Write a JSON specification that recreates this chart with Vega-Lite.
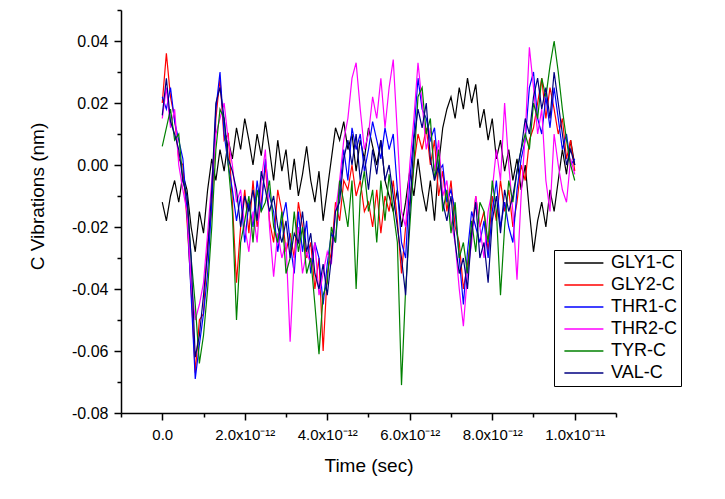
{
"$schema":"https://vega.github.io/schema/vega-lite/v6.json",
"width":495,"height":403,
"autosize":{"type":"none"},
"padding":{"left":121,"top":10,"right":109,"bottom":86},
"background":"white",
"config":{"view":{"stroke":null},
"axis":{"grid":false,"domainColor":"black","domainWidth":1.5,"tickColor":"black","tickWidth":1.5,"labelFont":"Liberation Sans","labelFontSize":15,"labelColor":"black","titleFont":"Liberation Sans","titleFontSize":19,"titleFontWeight":"normal","titleColor":"black"},
"legend":{"labelFont":"Liberation Sans","labelFontSize":18,"labelColor":"black"}},
"data":{"values":[
{"series":"GLY1-C","t":0.0e-12,"v":-0.012},{"series":"GLY1-C","t":0.1e-12,"v":-0.018},{"series":"GLY1-C","t":0.2e-12,"v":-0.010},{"series":"GLY1-C","t":0.3e-12,"v":-0.005},{"series":"GLY1-C","t":0.4e-12,"v":-0.012},{"series":"GLY1-C","t":0.5e-12,"v":-0.003},{"series":"GLY1-C","t":0.6e-12,"v":-0.008},{"series":"GLY1-C","t":0.7e-12,"v":-0.020},{"series":"GLY1-C","t":0.8e-12,"v":-0.028},{"series":"GLY1-C","t":0.9e-12,"v":-0.015},
{"series":"GLY1-C","t":1.0e-12,"v":-0.022},{"series":"GLY1-C","t":1.1e-12,"v":-0.008},{"series":"GLY1-C","t":1.2e-12,"v":0.002},{"series":"GLY1-C","t":1.3e-12,"v":-0.005},{"series":"GLY1-C","t":1.4e-12,"v":0.005},{"series":"GLY1-C","t":1.5e-12,"v":-0.002},{"series":"GLY1-C","t":1.6e-12,"v":0.008},{"series":"GLY1-C","t":1.7e-12,"v":0.002},{"series":"GLY1-C","t":1.8e-12,"v":0.012},{"series":"GLY1-C","t":1.9e-12,"v":0.005},
{"series":"GLY1-C","t":2.0e-12,"v":0.015},{"series":"GLY1-C","t":2.1e-12,"v":0.008},{"series":"GLY1-C","t":2.2e-12,"v":0.000},{"series":"GLY1-C","t":2.3e-12,"v":0.010},{"series":"GLY1-C","t":2.4e-12,"v":0.003},{"series":"GLY1-C","t":2.5e-12,"v":0.014},{"series":"GLY1-C","t":2.6e-12,"v":0.005},{"series":"GLY1-C","t":2.7e-12,"v":-0.005},{"series":"GLY1-C","t":2.8e-12,"v":0.008},{"series":"GLY1-C","t":2.9e-12,"v":-0.002},
{"series":"GLY1-C","t":3.0e-12,"v":0.005},{"series":"GLY1-C","t":3.1e-12,"v":-0.008},{"series":"GLY1-C","t":3.2e-12,"v":0.002},{"series":"GLY1-C","t":3.3e-12,"v":-0.010},{"series":"GLY1-C","t":3.4e-12,"v":-0.003},{"series":"GLY1-C","t":3.5e-12,"v":0.006},{"series":"GLY1-C","t":3.6e-12,"v":-0.005},{"series":"GLY1-C","t":3.7e-12,"v":-0.012},{"series":"GLY1-C","t":3.8e-12,"v":-0.002},{"series":"GLY1-C","t":3.9e-12,"v":-0.018},
{"series":"GLY1-C","t":4.0e-12,"v":-0.008},{"series":"GLY1-C","t":4.1e-12,"v":0.002},{"series":"GLY1-C","t":4.2e-12,"v":0.012},{"series":"GLY1-C","t":4.3e-12,"v":0.008},{"series":"GLY1-C","t":4.4e-12,"v":0.014},{"series":"GLY1-C","t":4.5e-12,"v":0.005},{"series":"GLY1-C","t":4.6e-12,"v":0.010},{"series":"GLY1-C","t":4.7e-12,"v":-0.002},{"series":"GLY1-C","t":4.8e-12,"v":0.008},{"series":"GLY1-C","t":4.9e-12,"v":0.002},
{"series":"GLY1-C","t":5.0e-12,"v":0.012},{"series":"GLY1-C","t":5.1e-12,"v":0.006},{"series":"GLY1-C","t":5.2e-12,"v":0.000},{"series":"GLY1-C","t":5.3e-12,"v":0.008},{"series":"GLY1-C","t":5.4e-12,"v":-0.005},{"series":"GLY1-C","t":5.5e-12,"v":-0.010},{"series":"GLY1-C","t":5.6e-12,"v":-0.015},{"series":"GLY1-C","t":5.7e-12,"v":-0.008},{"series":"GLY1-C","t":5.8e-12,"v":-0.020},{"series":"GLY1-C","t":5.9e-12,"v":-0.012},
{"series":"GLY1-C","t":6.0e-12,"v":-0.002},{"series":"GLY1-C","t":6.1e-12,"v":-0.010},{"series":"GLY1-C","t":6.2e-12,"v":0.002},{"series":"GLY1-C","t":6.3e-12,"v":-0.008},{"series":"GLY1-C","t":6.4e-12,"v":-0.015},{"series":"GLY1-C","t":6.5e-12,"v":-0.005},{"series":"GLY1-C","t":6.6e-12,"v":-0.018},{"series":"GLY1-C","t":6.7e-12,"v":0.000},{"series":"GLY1-C","t":6.8e-12,"v":0.012},{"series":"GLY1-C","t":6.9e-12,"v":0.018},
{"series":"GLY1-C","t":7.0e-12,"v":0.022},{"series":"GLY1-C","t":7.1e-12,"v":0.015},{"series":"GLY1-C","t":7.2e-12,"v":0.025},{"series":"GLY1-C","t":7.3e-12,"v":0.018},{"series":"GLY1-C","t":7.4e-12,"v":0.028},{"series":"GLY1-C","t":7.5e-12,"v":0.020},{"series":"GLY1-C","t":7.6e-12,"v":0.026},{"series":"GLY1-C","t":7.7e-12,"v":0.012},{"series":"GLY1-C","t":7.8e-12,"v":0.018},{"series":"GLY1-C","t":7.9e-12,"v":0.008},
{"series":"GLY1-C","t":8.0e-12,"v":0.015},{"series":"GLY1-C","t":8.1e-12,"v":0.002},{"series":"GLY1-C","t":8.2e-12,"v":0.008},{"series":"GLY1-C","t":8.3e-12,"v":-0.002},{"series":"GLY1-C","t":8.4e-12,"v":0.005},{"series":"GLY1-C","t":8.5e-12,"v":-0.005},{"series":"GLY1-C","t":8.6e-12,"v":0.002},{"series":"GLY1-C","t":8.7e-12,"v":-0.008},{"series":"GLY1-C","t":8.8e-12,"v":0.000},{"series":"GLY1-C","t":8.9e-12,"v":-0.015},
{"series":"GLY1-C","t":9.0e-12,"v":-0.028},{"series":"GLY1-C","t":9.1e-12,"v":-0.018},{"series":"GLY1-C","t":9.2e-12,"v":-0.012},{"series":"GLY1-C","t":9.3e-12,"v":-0.020},{"series":"GLY1-C","t":9.4e-12,"v":-0.008},{"series":"GLY1-C","t":9.5e-12,"v":-0.015},{"series":"GLY1-C","t":9.6e-12,"v":-0.005},{"series":"GLY1-C","t":9.7e-12,"v":0.005},{"series":"GLY1-C","t":9.8e-12,"v":-0.003},{"series":"GLY1-C","t":9.9e-12,"v":0.008},{"series":"GLY1-C","t":10.0e-12,"v":0.000},

{"series":"GLY2-C","t":0.0e-12,"v":0.020},{"series":"GLY2-C","t":0.1e-12,"v":0.036},{"series":"GLY2-C","t":0.2e-12,"v":0.022},{"series":"GLY2-C","t":0.3e-12,"v":0.015},{"series":"GLY2-C","t":0.4e-12,"v":0.002},{"series":"GLY2-C","t":0.5e-12,"v":0.000},{"series":"GLY2-C","t":0.6e-12,"v":-0.018},{"series":"GLY2-C","t":0.7e-12,"v":-0.040},{"series":"GLY2-C","t":0.8e-12,"v":-0.067},{"series":"GLY2-C","t":0.9e-12,"v":-0.050},
{"series":"GLY2-C","t":1.0e-12,"v":-0.048},{"series":"GLY2-C","t":1.1e-12,"v":-0.025},{"series":"GLY2-C","t":1.2e-12,"v":-0.015},{"series":"GLY2-C","t":1.3e-12,"v":0.015},{"series":"GLY2-C","t":1.4e-12,"v":0.028},{"series":"GLY2-C","t":1.5e-12,"v":0.008},{"series":"GLY2-C","t":1.6e-12,"v":0.010},{"series":"GLY2-C","t":1.7e-12,"v":-0.012},{"series":"GLY2-C","t":1.8e-12,"v":-0.038},{"series":"GLY2-C","t":1.9e-12,"v":-0.020},
{"series":"GLY2-C","t":2.0e-12,"v":-0.008},{"series":"GLY2-C","t":2.1e-12,"v":-0.022},{"series":"GLY2-C","t":2.2e-12,"v":-0.005},{"series":"GLY2-C","t":2.3e-12,"v":-0.020},{"series":"GLY2-C","t":2.4e-12,"v":-0.012},{"series":"GLY2-C","t":2.5e-12,"v":0.000},{"series":"GLY2-C","t":2.6e-12,"v":-0.018},{"series":"GLY2-C","t":2.7e-12,"v":-0.025},{"series":"GLY2-C","t":2.8e-12,"v":-0.008},{"series":"GLY2-C","t":2.9e-12,"v":-0.015},
{"series":"GLY2-C","t":3.0e-12,"v":-0.028},{"series":"GLY2-C","t":3.1e-12,"v":-0.022},{"series":"GLY2-C","t":3.2e-12,"v":-0.030},{"series":"GLY2-C","t":3.3e-12,"v":-0.012},{"series":"GLY2-C","t":3.4e-12,"v":-0.020},{"series":"GLY2-C","t":3.5e-12,"v":-0.030},{"series":"GLY2-C","t":3.6e-12,"v":-0.025},{"series":"GLY2-C","t":3.7e-12,"v":-0.040},{"series":"GLY2-C","t":3.8e-12,"v":-0.030},{"series":"GLY2-C","t":3.9e-12,"v":-0.060},
{"series":"GLY2-C","t":4.0e-12,"v":-0.035},{"series":"GLY2-C","t":4.1e-12,"v":-0.028},{"series":"GLY2-C","t":4.2e-12,"v":-0.012},{"series":"GLY2-C","t":4.3e-12,"v":-0.018},{"series":"GLY2-C","t":4.4e-12,"v":-0.005},{"series":"GLY2-C","t":4.5e-12,"v":-0.008},{"series":"GLY2-C","t":4.6e-12,"v":0.000},{"series":"GLY2-C","t":4.7e-12,"v":-0.010},{"series":"GLY2-C","t":4.8e-12,"v":-0.005},{"series":"GLY2-C","t":4.9e-12,"v":-0.015},
{"series":"GLY2-C","t":5.0e-12,"v":-0.012},{"series":"GLY2-C","t":5.1e-12,"v":-0.020},{"series":"GLY2-C","t":5.2e-12,"v":-0.008},{"series":"GLY2-C","t":5.3e-12,"v":-0.022},{"series":"GLY2-C","t":5.4e-12,"v":-0.010},{"series":"GLY2-C","t":5.5e-12,"v":-0.015},{"series":"GLY2-C","t":5.6e-12,"v":-0.005},{"series":"GLY2-C","t":5.7e-12,"v":-0.018},{"series":"GLY2-C","t":5.8e-12,"v":-0.035},{"series":"GLY2-C","t":5.9e-12,"v":-0.020},
{"series":"GLY2-C","t":6.0e-12,"v":-0.012},{"series":"GLY2-C","t":6.1e-12,"v":0.000},{"series":"GLY2-C","t":6.2e-12,"v":0.010},{"series":"GLY2-C","t":6.3e-12,"v":0.005},{"series":"GLY2-C","t":6.4e-12,"v":0.012},{"series":"GLY2-C","t":6.5e-12,"v":0.000},{"series":"GLY2-C","t":6.6e-12,"v":0.008},{"series":"GLY2-C","t":6.7e-12,"v":-0.010},{"series":"GLY2-C","t":6.8e-12,"v":-0.002},{"series":"GLY2-C","t":6.9e-12,"v":-0.015},
{"series":"GLY2-C","t":7.0e-12,"v":-0.005},{"series":"GLY2-C","t":7.1e-12,"v":-0.020},{"series":"GLY2-C","t":7.2e-12,"v":-0.025},{"series":"GLY2-C","t":7.3e-12,"v":-0.040},{"series":"GLY2-C","t":7.4e-12,"v":-0.032},{"series":"GLY2-C","t":7.5e-12,"v":-0.022},{"series":"GLY2-C","t":7.6e-12,"v":-0.010},{"series":"GLY2-C","t":7.7e-12,"v":-0.020},{"series":"GLY2-C","t":7.8e-12,"v":-0.015},{"series":"GLY2-C","t":7.9e-12,"v":-0.028},
{"series":"GLY2-C","t":8.0e-12,"v":-0.010},{"series":"GLY2-C","t":8.1e-12,"v":-0.018},{"series":"GLY2-C","t":8.2e-12,"v":-0.005},{"series":"GLY2-C","t":8.3e-12,"v":-0.015},{"series":"GLY2-C","t":8.4e-12,"v":-0.008},{"series":"GLY2-C","t":8.5e-12,"v":-0.020},{"series":"GLY2-C","t":8.6e-12,"v":-0.012},{"series":"GLY2-C","t":8.7e-12,"v":0.000},{"series":"GLY2-C","t":8.8e-12,"v":-0.005},{"series":"GLY2-C","t":8.9e-12,"v":0.008},
{"series":"GLY2-C","t":9.0e-12,"v":0.012},{"series":"GLY2-C","t":9.1e-12,"v":0.020},{"series":"GLY2-C","t":9.2e-12,"v":0.028},{"series":"GLY2-C","t":9.3e-12,"v":0.015},{"series":"GLY2-C","t":9.4e-12,"v":0.025},{"series":"GLY2-C","t":9.5e-12,"v":0.018},{"series":"GLY2-C","t":9.6e-12,"v":0.010},{"series":"GLY2-C","t":9.7e-12,"v":0.015},{"series":"GLY2-C","t":9.8e-12,"v":0.002},{"series":"GLY2-C","t":9.9e-12,"v":0.008},{"series":"GLY2-C","t":10.0e-12,"v":-0.002},

{"series":"THR1-C","t":0.0e-12,"v":0.022},{"series":"THR1-C","t":0.1e-12,"v":0.018},{"series":"THR1-C","t":0.2e-12,"v":0.025},{"series":"THR1-C","t":0.3e-12,"v":0.014},{"series":"THR1-C","t":0.4e-12,"v":0.008},{"series":"THR1-C","t":0.5e-12,"v":0.002},{"series":"THR1-C","t":0.6e-12,"v":-0.015},{"series":"THR1-C","t":0.7e-12,"v":-0.042},{"series":"THR1-C","t":0.8e-12,"v":-0.069},{"series":"THR1-C","t":0.9e-12,"v":-0.058},
{"series":"THR1-C","t":1.0e-12,"v":-0.048},{"series":"THR1-C","t":1.1e-12,"v":-0.035},{"series":"THR1-C","t":1.2e-12,"v":-0.012},{"series":"THR1-C","t":1.3e-12,"v":0.018},{"series":"THR1-C","t":1.4e-12,"v":0.030},{"series":"THR1-C","t":1.5e-12,"v":0.010},{"series":"THR1-C","t":1.6e-12,"v":0.000},{"series":"THR1-C","t":1.7e-12,"v":-0.008},{"series":"THR1-C","t":1.8e-12,"v":-0.018},{"series":"THR1-C","t":1.9e-12,"v":-0.010},
{"series":"THR1-C","t":2.0e-12,"v":-0.025},{"series":"THR1-C","t":2.1e-12,"v":-0.012},{"series":"THR1-C","t":2.2e-12,"v":-0.020},{"series":"THR1-C","t":2.3e-12,"v":-0.005},{"series":"THR1-C","t":2.4e-12,"v":-0.015},{"series":"THR1-C","t":2.5e-12,"v":0.002},{"series":"THR1-C","t":2.6e-12,"v":-0.010},{"series":"THR1-C","t":2.7e-12,"v":-0.015},{"series":"THR1-C","t":2.8e-12,"v":-0.028},{"series":"THR1-C","t":2.9e-12,"v":-0.018},
{"series":"THR1-C","t":3.0e-12,"v":-0.012},{"series":"THR1-C","t":3.1e-12,"v":-0.025},{"series":"THR1-C","t":3.2e-12,"v":-0.035},{"series":"THR1-C","t":3.3e-12,"v":-0.015},{"series":"THR1-C","t":3.4e-12,"v":-0.028},{"series":"THR1-C","t":3.5e-12,"v":-0.018},{"series":"THR1-C","t":3.6e-12,"v":-0.035},{"series":"THR1-C","t":3.7e-12,"v":-0.025},{"series":"THR1-C","t":3.8e-12,"v":-0.030},{"series":"THR1-C","t":3.9e-12,"v":-0.045},
{"series":"THR1-C","t":4.0e-12,"v":-0.032},{"series":"THR1-C","t":4.1e-12,"v":-0.022},{"series":"THR1-C","t":4.2e-12,"v":-0.025},{"series":"THR1-C","t":4.3e-12,"v":-0.008},{"series":"THR1-C","t":4.4e-12,"v":0.005},{"series":"THR1-C","t":4.5e-12,"v":-0.005},{"series":"THR1-C","t":4.6e-12,"v":0.012},{"series":"THR1-C","t":4.7e-12,"v":0.005},{"series":"THR1-C","t":4.8e-12,"v":0.010},{"series":"THR1-C","t":4.9e-12,"v":-0.002},
{"series":"THR1-C","t":5.0e-12,"v":0.005},{"series":"THR1-C","t":5.1e-12,"v":0.014},{"series":"THR1-C","t":5.2e-12,"v":0.008},{"series":"THR1-C","t":5.3e-12,"v":0.002},{"series":"THR1-C","t":5.4e-12,"v":0.012},{"series":"THR1-C","t":5.5e-12,"v":0.005},{"series":"THR1-C","t":5.6e-12,"v":0.010},{"series":"THR1-C","t":5.7e-12,"v":-0.008},{"series":"THR1-C","t":5.8e-12,"v":-0.025},{"series":"THR1-C","t":5.9e-12,"v":-0.030},
{"series":"THR1-C","t":6.0e-12,"v":-0.005},{"series":"THR1-C","t":6.1e-12,"v":0.010},{"series":"THR1-C","t":6.2e-12,"v":0.028},{"series":"THR1-C","t":6.3e-12,"v":0.018},{"series":"THR1-C","t":6.4e-12,"v":0.015},{"series":"THR1-C","t":6.5e-12,"v":0.008},{"series":"THR1-C","t":6.6e-12,"v":0.012},{"series":"THR1-C","t":6.7e-12,"v":-0.002},{"series":"THR1-C","t":6.8e-12,"v":0.000},{"series":"THR1-C","t":6.9e-12,"v":-0.012},
{"series":"THR1-C","t":7.0e-12,"v":-0.008},{"series":"THR1-C","t":7.1e-12,"v":-0.015},{"series":"THR1-C","t":7.2e-12,"v":-0.030},{"series":"THR1-C","t":7.3e-12,"v":-0.045},{"series":"THR1-C","t":7.4e-12,"v":-0.028},{"series":"THR1-C","t":7.5e-12,"v":-0.015},{"series":"THR1-C","t":7.6e-12,"v":-0.020},{"series":"THR1-C","t":7.7e-12,"v":-0.025},{"series":"THR1-C","t":7.8e-12,"v":-0.018},{"series":"THR1-C","t":7.9e-12,"v":-0.030},
{"series":"THR1-C","t":8.0e-12,"v":-0.015},{"series":"THR1-C","t":8.1e-12,"v":-0.005},{"series":"THR1-C","t":8.2e-12,"v":-0.020},{"series":"THR1-C","t":8.3e-12,"v":-0.012},{"series":"THR1-C","t":8.4e-12,"v":-0.020},{"series":"THR1-C","t":8.5e-12,"v":-0.025},{"series":"THR1-C","t":8.6e-12,"v":-0.008},{"series":"THR1-C","t":8.7e-12,"v":0.002},{"series":"THR1-C","t":8.8e-12,"v":0.008},{"series":"THR1-C","t":8.9e-12,"v":0.025},
{"series":"THR1-C","t":9.0e-12,"v":0.030},{"series":"THR1-C","t":9.1e-12,"v":0.015},{"series":"THR1-C","t":9.2e-12,"v":0.010},{"series":"THR1-C","t":9.3e-12,"v":0.022},{"series":"THR1-C","t":9.4e-12,"v":0.012},{"series":"THR1-C","t":9.5e-12,"v":0.025},{"series":"THR1-C","t":9.6e-12,"v":0.015},{"series":"THR1-C","t":9.7e-12,"v":0.005},{"series":"THR1-C","t":9.8e-12,"v":0.010},{"series":"THR1-C","t":9.9e-12,"v":0.000},{"series":"THR1-C","t":10.0e-12,"v":0.002},

{"series":"THR2-C","t":0.0e-12,"v":0.015},{"series":"THR2-C","t":0.1e-12,"v":0.025},{"series":"THR2-C","t":0.2e-12,"v":0.012},{"series":"THR2-C","t":0.3e-12,"v":0.018},{"series":"THR2-C","t":0.4e-12,"v":0.000},{"series":"THR2-C","t":0.5e-12,"v":-0.008},{"series":"THR2-C","t":0.6e-12,"v":-0.015},{"series":"THR2-C","t":0.7e-12,"v":-0.038},{"series":"THR2-C","t":0.8e-12,"v":-0.050},{"series":"THR2-C","t":0.9e-12,"v":-0.045},
{"series":"THR2-C","t":1.0e-12,"v":-0.038},{"series":"THR2-C","t":1.1e-12,"v":-0.022},{"series":"THR2-C","t":1.2e-12,"v":-0.005},{"series":"THR2-C","t":1.3e-12,"v":0.010},{"series":"THR2-C","t":1.4e-12,"v":0.015},{"series":"THR2-C","t":1.5e-12,"v":0.020},{"series":"THR2-C","t":1.6e-12,"v":0.008},{"series":"THR2-C","t":1.7e-12,"v":0.000},{"series":"THR2-C","t":1.8e-12,"v":-0.012},{"series":"THR2-C","t":1.9e-12,"v":-0.008},
{"series":"THR2-C","t":2.0e-12,"v":-0.020},{"series":"THR2-C","t":2.1e-12,"v":-0.028},{"series":"THR2-C","t":2.2e-12,"v":-0.015},{"series":"THR2-C","t":2.3e-12,"v":-0.025},{"series":"THR2-C","t":2.4e-12,"v":-0.005},{"series":"THR2-C","t":2.5e-12,"v":0.005},{"series":"THR2-C","t":2.6e-12,"v":-0.020},{"series":"THR2-C","t":2.7e-12,"v":-0.036},{"series":"THR2-C","t":2.8e-12,"v":-0.022},{"series":"THR2-C","t":2.9e-12,"v":-0.030},
{"series":"THR2-C","t":3.0e-12,"v":-0.025},{"series":"THR2-C","t":3.1e-12,"v":-0.057},{"series":"THR2-C","t":3.2e-12,"v":-0.030},{"series":"THR2-C","t":3.3e-12,"v":-0.020},{"series":"THR2-C","t":3.4e-12,"v":-0.035},{"series":"THR2-C","t":3.5e-12,"v":-0.028},{"series":"THR2-C","t":3.6e-12,"v":-0.032},{"series":"THR2-C","t":3.7e-12,"v":-0.025},{"series":"THR2-C","t":3.8e-12,"v":-0.042},{"series":"THR2-C","t":3.9e-12,"v":-0.035},
{"series":"THR2-C","t":4.0e-12,"v":-0.028},{"series":"THR2-C","t":4.1e-12,"v":-0.032},{"series":"THR2-C","t":4.2e-12,"v":-0.015},{"series":"THR2-C","t":4.3e-12,"v":-0.005},{"series":"THR2-C","t":4.4e-12,"v":0.008},{"series":"THR2-C","t":4.5e-12,"v":0.015},{"series":"THR2-C","t":4.6e-12,"v":0.028},{"series":"THR2-C","t":4.7e-12,"v":0.033},{"series":"THR2-C","t":4.8e-12,"v":0.018},{"series":"THR2-C","t":4.9e-12,"v":0.005},
{"series":"THR2-C","t":5.0e-12,"v":0.010},{"series":"THR2-C","t":5.1e-12,"v":0.022},{"series":"THR2-C","t":5.2e-12,"v":0.015},{"series":"THR2-C","t":5.3e-12,"v":0.028},{"series":"THR2-C","t":5.4e-12,"v":0.012},{"series":"THR2-C","t":5.5e-12,"v":0.025},{"series":"THR2-C","t":5.6e-12,"v":0.034},{"series":"THR2-C","t":5.7e-12,"v":0.010},{"series":"THR2-C","t":5.8e-12,"v":-0.015},{"series":"THR2-C","t":5.9e-12,"v":-0.020},
{"series":"THR2-C","t":6.0e-12,"v":0.000},{"series":"THR2-C","t":6.1e-12,"v":0.015},{"series":"THR2-C","t":6.2e-12,"v":0.033},{"series":"THR2-C","t":6.3e-12,"v":0.020},{"series":"THR2-C","t":6.4e-12,"v":0.005},{"series":"THR2-C","t":6.5e-12,"v":0.012},{"series":"THR2-C","t":6.6e-12,"v":-0.002},{"series":"THR2-C","t":6.7e-12,"v":0.008},{"series":"THR2-C","t":6.8e-12,"v":-0.010},{"series":"THR2-C","t":6.9e-12,"v":-0.005},
{"series":"THR2-C","t":7.0e-12,"v":-0.018},{"series":"THR2-C","t":7.1e-12,"v":-0.025},{"series":"THR2-C","t":7.2e-12,"v":-0.040},{"series":"THR2-C","t":7.3e-12,"v":-0.052},{"series":"THR2-C","t":7.4e-12,"v":-0.035},{"series":"THR2-C","t":7.5e-12,"v":-0.025},{"series":"THR2-C","t":7.6e-12,"v":-0.010},{"series":"THR2-C","t":7.7e-12,"v":-0.020},{"series":"THR2-C","t":7.8e-12,"v":-0.030},{"series":"THR2-C","t":7.9e-12,"v":-0.015},
{"series":"THR2-C","t":8.0e-12,"v":-0.008},{"series":"THR2-C","t":8.1e-12,"v":0.005},{"series":"THR2-C","t":8.2e-12,"v":-0.005},{"series":"THR2-C","t":8.3e-12,"v":0.020},{"series":"THR2-C","t":8.4e-12,"v":0.000},{"series":"THR2-C","t":8.5e-12,"v":-0.015},{"series":"THR2-C","t":8.6e-12,"v":-0.037},{"series":"THR2-C","t":8.7e-12,"v":-0.010},{"series":"THR2-C","t":8.8e-12,"v":0.010},{"series":"THR2-C","t":8.9e-12,"v":0.038},
{"series":"THR2-C","t":9.0e-12,"v":0.025},{"series":"THR2-C","t":9.1e-12,"v":0.010},{"series":"THR2-C","t":9.2e-12,"v":0.018},{"series":"THR2-C","t":9.3e-12,"v":-0.005},{"series":"THR2-C","t":9.4e-12,"v":-0.015},{"series":"THR2-C","t":9.5e-12,"v":0.010},{"series":"THR2-C","t":9.6e-12,"v":0.000},{"series":"THR2-C","t":9.7e-12,"v":-0.008},{"series":"THR2-C","t":9.8e-12,"v":-0.012},{"series":"THR2-C","t":9.9e-12,"v":0.002},{"series":"THR2-C","t":10.0e-12,"v":-0.003},

{"series":"TYR-C","t":0.0e-12,"v":0.006},{"series":"TYR-C","t":0.1e-12,"v":0.012},{"series":"TYR-C","t":0.2e-12,"v":0.018},{"series":"TYR-C","t":0.3e-12,"v":0.008},{"series":"TYR-C","t":0.4e-12,"v":0.010},{"series":"TYR-C","t":0.5e-12,"v":-0.005},{"series":"TYR-C","t":0.6e-12,"v":-0.010},{"series":"TYR-C","t":0.7e-12,"v":-0.030},{"series":"TYR-C","t":0.8e-12,"v":-0.045},{"series":"TYR-C","t":0.9e-12,"v":-0.064},
{"series":"TYR-C","t":1.0e-12,"v":-0.055},{"series":"TYR-C","t":1.1e-12,"v":-0.040},{"series":"TYR-C","t":1.2e-12,"v":-0.020},{"series":"TYR-C","t":1.3e-12,"v":0.005},{"series":"TYR-C","t":1.4e-12,"v":0.018},{"series":"TYR-C","t":1.5e-12,"v":0.015},{"series":"TYR-C","t":1.6e-12,"v":0.000},{"series":"TYR-C","t":1.7e-12,"v":-0.015},{"series":"TYR-C","t":1.8e-12,"v":-0.050},{"series":"TYR-C","t":1.9e-12,"v":-0.025},
{"series":"TYR-C","t":2.0e-12,"v":-0.018},{"series":"TYR-C","t":2.1e-12,"v":-0.010},{"series":"TYR-C","t":2.2e-12,"v":-0.025},{"series":"TYR-C","t":2.3e-12,"v":-0.008},{"series":"TYR-C","t":2.4e-12,"v":-0.015},{"series":"TYR-C","t":2.5e-12,"v":-0.012},{"series":"TYR-C","t":2.6e-12,"v":-0.005},{"series":"TYR-C","t":2.7e-12,"v":-0.020},{"series":"TYR-C","t":2.8e-12,"v":-0.025},{"series":"TYR-C","t":2.9e-12,"v":-0.015},
{"series":"TYR-C","t":3.0e-12,"v":-0.035},{"series":"TYR-C","t":3.1e-12,"v":-0.030},{"series":"TYR-C","t":3.2e-12,"v":-0.015},{"series":"TYR-C","t":3.3e-12,"v":-0.028},{"series":"TYR-C","t":3.4e-12,"v":-0.020},{"series":"TYR-C","t":3.5e-12,"v":-0.035},{"series":"TYR-C","t":3.6e-12,"v":-0.030},{"series":"TYR-C","t":3.7e-12,"v":-0.045},{"series":"TYR-C","t":3.8e-12,"v":-0.061},{"series":"TYR-C","t":3.9e-12,"v":-0.042},
{"series":"TYR-C","t":4.0e-12,"v":-0.038},{"series":"TYR-C","t":4.1e-12,"v":-0.020},{"series":"TYR-C","t":4.2e-12,"v":-0.025},{"series":"TYR-C","t":4.3e-12,"v":-0.005},{"series":"TYR-C","t":4.4e-12,"v":-0.012},{"series":"TYR-C","t":4.5e-12,"v":-0.020},{"series":"TYR-C","t":4.6e-12,"v":-0.005},{"series":"TYR-C","t":4.7e-12,"v":-0.040},{"series":"TYR-C","t":4.8e-12,"v":-0.010},{"series":"TYR-C","t":4.9e-12,"v":-0.002},
{"series":"TYR-C","t":5.0e-12,"v":-0.015},{"series":"TYR-C","t":5.1e-12,"v":-0.008},{"series":"TYR-C","t":5.2e-12,"v":-0.025},{"series":"TYR-C","t":5.3e-12,"v":-0.005},{"series":"TYR-C","t":5.4e-12,"v":-0.018},{"series":"TYR-C","t":5.5e-12,"v":-0.003},{"series":"TYR-C","t":5.6e-12,"v":-0.015},{"series":"TYR-C","t":5.7e-12,"v":-0.025},{"series":"TYR-C","t":5.8e-12,"v":-0.071},{"series":"TYR-C","t":5.9e-12,"v":-0.040},
{"series":"TYR-C","t":6.0e-12,"v":-0.020},{"series":"TYR-C","t":6.1e-12,"v":0.000},{"series":"TYR-C","t":6.2e-12,"v":0.022},{"series":"TYR-C","t":6.3e-12,"v":0.025},{"series":"TYR-C","t":6.4e-12,"v":0.010},{"series":"TYR-C","t":6.5e-12,"v":0.015},{"series":"TYR-C","t":6.6e-12,"v":-0.005},{"series":"TYR-C","t":6.7e-12,"v":0.005},{"series":"TYR-C","t":6.8e-12,"v":-0.015},{"series":"TYR-C","t":6.9e-12,"v":-0.008},
{"series":"TYR-C","t":7.0e-12,"v":-0.022},{"series":"TYR-C","t":7.1e-12,"v":-0.012},{"series":"TYR-C","t":7.2e-12,"v":-0.030},{"series":"TYR-C","t":7.3e-12,"v":-0.025},{"series":"TYR-C","t":7.4e-12,"v":-0.035},{"series":"TYR-C","t":7.5e-12,"v":-0.018},{"series":"TYR-C","t":7.6e-12,"v":-0.028},{"series":"TYR-C","t":7.7e-12,"v":-0.012},{"series":"TYR-C","t":7.8e-12,"v":-0.015},{"series":"TYR-C","t":7.9e-12,"v":-0.025},
{"series":"TYR-C","t":8.0e-12,"v":-0.005},{"series":"TYR-C","t":8.1e-12,"v":-0.015},{"series":"TYR-C","t":8.2e-12,"v":-0.042},{"series":"TYR-C","t":8.3e-12,"v":-0.020},{"series":"TYR-C","t":8.4e-12,"v":-0.005},{"series":"TYR-C","t":8.5e-12,"v":-0.012},{"series":"TYR-C","t":8.6e-12,"v":-0.002},{"series":"TYR-C","t":8.7e-12,"v":0.005},{"series":"TYR-C","t":8.8e-12,"v":0.010},{"series":"TYR-C","t":8.9e-12,"v":0.005},
{"series":"TYR-C","t":9.0e-12,"v":0.020},{"series":"TYR-C","t":9.1e-12,"v":0.015},{"series":"TYR-C","t":9.2e-12,"v":0.028},{"series":"TYR-C","t":9.3e-12,"v":0.022},{"series":"TYR-C","t":9.4e-12,"v":0.032},{"series":"TYR-C","t":9.5e-12,"v":0.040},{"series":"TYR-C","t":9.6e-12,"v":0.030},{"series":"TYR-C","t":9.7e-12,"v":0.018},{"series":"TYR-C","t":9.8e-12,"v":0.008},{"series":"TYR-C","t":9.9e-12,"v":0.000},{"series":"TYR-C","t":10.0e-12,"v":-0.005},

{"series":"VAL-C","t":0.0e-12,"v":0.016},{"series":"VAL-C","t":0.1e-12,"v":0.028},{"series":"VAL-C","t":0.2e-12,"v":0.014},{"series":"VAL-C","t":0.3e-12,"v":0.010},{"series":"VAL-C","t":0.4e-12,"v":0.005},{"series":"VAL-C","t":0.5e-12,"v":-0.005},{"series":"VAL-C","t":0.6e-12,"v":-0.010},{"series":"VAL-C","t":0.7e-12,"v":-0.030},{"series":"VAL-C","t":0.8e-12,"v":-0.062},{"series":"VAL-C","t":0.9e-12,"v":-0.055},
{"series":"VAL-C","t":1.0e-12,"v":-0.042},{"series":"VAL-C","t":1.1e-12,"v":-0.028},{"series":"VAL-C","t":1.2e-12,"v":-0.008},{"series":"VAL-C","t":1.3e-12,"v":0.020},{"series":"VAL-C","t":1.4e-12,"v":0.025},{"series":"VAL-C","t":1.5e-12,"v":0.015},{"series":"VAL-C","t":1.6e-12,"v":0.002},{"series":"VAL-C","t":1.7e-12,"v":-0.002},{"series":"VAL-C","t":1.8e-12,"v":-0.008},{"series":"VAL-C","t":1.9e-12,"v":-0.020},
{"series":"VAL-C","t":2.0e-12,"v":-0.010},{"series":"VAL-C","t":2.1e-12,"v":-0.015},{"series":"VAL-C","t":2.2e-12,"v":-0.008},{"series":"VAL-C","t":2.3e-12,"v":-0.018},{"series":"VAL-C","t":2.4e-12,"v":-0.002},{"series":"VAL-C","t":2.5e-12,"v":-0.008},{"series":"VAL-C","t":2.6e-12,"v":-0.015},{"series":"VAL-C","t":2.7e-12,"v":-0.010},{"series":"VAL-C","t":2.8e-12,"v":-0.020},{"series":"VAL-C","t":2.9e-12,"v":-0.025},
{"series":"VAL-C","t":3.0e-12,"v":-0.018},{"series":"VAL-C","t":3.1e-12,"v":-0.030},{"series":"VAL-C","t":3.2e-12,"v":-0.022},{"series":"VAL-C","t":3.3e-12,"v":-0.025},{"series":"VAL-C","t":3.4e-12,"v":-0.015},{"series":"VAL-C","t":3.5e-12,"v":-0.028},{"series":"VAL-C","t":3.6e-12,"v":-0.022},{"series":"VAL-C","t":3.7e-12,"v":-0.035},{"series":"VAL-C","t":3.8e-12,"v":-0.040},{"series":"VAL-C","t":3.9e-12,"v":-0.032},
{"series":"VAL-C","t":4.0e-12,"v":-0.042},{"series":"VAL-C","t":4.1e-12,"v":-0.030},{"series":"VAL-C","t":4.2e-12,"v":-0.015},{"series":"VAL-C","t":4.3e-12,"v":-0.012},{"series":"VAL-C","t":4.4e-12,"v":0.002},{"series":"VAL-C","t":4.5e-12,"v":0.008},{"series":"VAL-C","t":4.6e-12,"v":0.000},{"series":"VAL-C","t":4.7e-12,"v":0.010},{"series":"VAL-C","t":4.8e-12,"v":-0.005},{"series":"VAL-C","t":4.9e-12,"v":0.003},
{"series":"VAL-C","t":5.0e-12,"v":-0.008},{"series":"VAL-C","t":5.1e-12,"v":0.005},{"series":"VAL-C","t":5.2e-12,"v":-0.003},{"series":"VAL-C","t":5.3e-12,"v":0.008},{"series":"VAL-C","t":5.4e-12,"v":-0.005},{"series":"VAL-C","t":5.5e-12,"v":0.000},{"series":"VAL-C","t":5.6e-12,"v":-0.010},{"series":"VAL-C","t":5.7e-12,"v":-0.020},{"series":"VAL-C","t":5.8e-12,"v":-0.030},{"series":"VAL-C","t":5.9e-12,"v":-0.042},
{"series":"VAL-C","t":6.0e-12,"v":-0.015},{"series":"VAL-C","t":6.1e-12,"v":0.008},{"series":"VAL-C","t":6.2e-12,"v":0.018},{"series":"VAL-C","t":6.3e-12,"v":0.012},{"series":"VAL-C","t":6.4e-12,"v":0.020},{"series":"VAL-C","t":6.5e-12,"v":0.002},{"series":"VAL-C","t":6.6e-12,"v":-0.005},{"series":"VAL-C","t":6.7e-12,"v":0.000},{"series":"VAL-C","t":6.8e-12,"v":-0.012},{"series":"VAL-C","t":6.9e-12,"v":-0.018},
{"series":"VAL-C","t":7.0e-12,"v":-0.010},{"series":"VAL-C","t":7.1e-12,"v":-0.025},{"series":"VAL-C","t":7.2e-12,"v":-0.035},{"series":"VAL-C","t":7.3e-12,"v":-0.030},{"series":"VAL-C","t":7.4e-12,"v":-0.040},{"series":"VAL-C","t":7.5e-12,"v":-0.022},{"series":"VAL-C","t":7.6e-12,"v":-0.012},{"series":"VAL-C","t":7.7e-12,"v":-0.030},{"series":"VAL-C","t":7.8e-12,"v":-0.025},{"series":"VAL-C","t":7.9e-12,"v":-0.038},
{"series":"VAL-C","t":8.0e-12,"v":-0.018},{"series":"VAL-C","t":8.1e-12,"v":-0.010},{"series":"VAL-C","t":8.2e-12,"v":-0.022},{"series":"VAL-C","t":8.3e-12,"v":-0.008},{"series":"VAL-C","t":8.4e-12,"v":-0.015},{"series":"VAL-C","t":8.5e-12,"v":-0.010},{"series":"VAL-C","t":8.6e-12,"v":-0.002},{"series":"VAL-C","t":8.7e-12,"v":0.005},{"series":"VAL-C","t":8.8e-12,"v":0.015},{"series":"VAL-C","t":8.9e-12,"v":0.010},
{"series":"VAL-C","t":9.0e-12,"v":0.022},{"series":"VAL-C","t":9.1e-12,"v":0.028},{"series":"VAL-C","t":9.2e-12,"v":0.018},{"series":"VAL-C","t":9.3e-12,"v":0.025},{"series":"VAL-C","t":9.4e-12,"v":0.015},{"series":"VAL-C","t":9.5e-12,"v":0.030},{"series":"VAL-C","t":9.6e-12,"v":0.020},{"series":"VAL-C","t":9.7e-12,"v":0.010},{"series":"VAL-C","t":9.8e-12,"v":0.000},{"series":"VAL-C","t":9.9e-12,"v":0.005},{"series":"VAL-C","t":10.0e-12,"v":0.000}
]},
"mark":{"type":"line","strokeWidth":1.2,"interpolate":"linear"},
"encoding":{
"x":{"field":"t","type":"quantitative",
"scale":{"domain":[-1e-12,1.1e-11],"nice":false,"zero":false},
"axis":{"title":"Time (sec)","values":[-1e-12,0,1e-12,2e-12,3e-12,4e-12,5e-12,6e-12,7e-12,8e-12,9e-12,1e-11,1.1e-11],
"labelExpr":"datum.value == 0 ? '0.0' : (abs(datum.value - 1e-11) < 1e-15 ? '1.0x10⁻¹¹' : (round(datum.value * 1e12) % 2 == 0 ? format(datum.value * 1e12, '.1f') + 'x10⁻¹²' : ''))",
"tickSize":{"condition":{"test":"round(datum.value * 1e12) % 2 == 0","value":7},"value":4},
"labelPadding":7,"labelFlush":false,"labelOverlap":false,"titleY":43,"titleBaseline":"top"}},
"y":{"field":"v","type":"quantitative",
"scale":{"domain":[-0.08,0.05],"nice":false,"zero":false},
"axis":{"title":"C Vibrations (nm)","values":[-0.08,-0.07,-0.06,-0.05,-0.04,-0.03,-0.02,-0.01,0,0.01,0.02,0.03,0.04,0.05],
"labelExpr":"round(datum.value * 100) % 2 == 0 ? (datum.value < -1e-9 ? '-' : '') + format(abs(datum.value), '.2f') : ''",
"tickSize":{"condition":{"test":"round(datum.value * 100) % 2 == 0","value":7},"value":4},
"labelFontSize":16,"labelPadding":6,"labelFlush":false,"labelOverlap":false,"titleX":-74,"titleY":186,"titleAngle":-90,"titleAlign":"center","titleBaseline":"bottom"}},
"color":{"field":"series","type":"nominal",
"scale":{"domain":["GLY1-C","GLY2-C","THR1-C","THR2-C","TYR-C","VAL-C"],"range":["#000000","#ff0000","#0000ff","#ff00ff","#008000","#000080"]},
"legend":{"title":null,"orient":"none","legendX":433,"legendY":240,"symbolType":"M-0.4,0L5.6,0","symbolSize":169,"symbolStrokeWidth":1.5,"labelOffset":35,"rowPadding":4,"padding":4,"strokeColor":"black"}}
}
}
